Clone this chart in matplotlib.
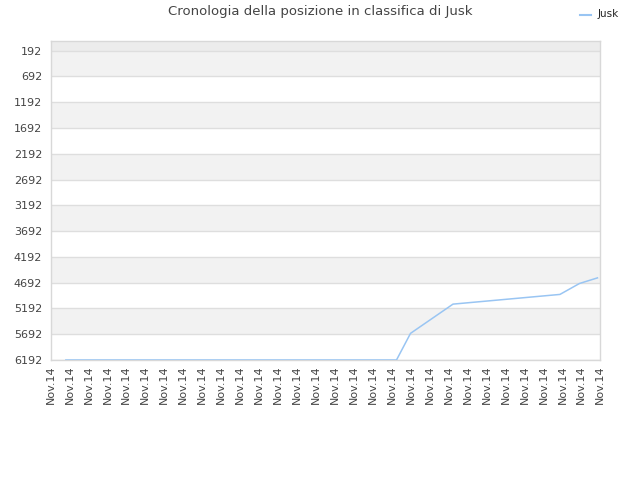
import matplotlib
matplotlib.use("Agg")
import matplotlib.pyplot as plt

# Data (x in tick-index units, y = ranking position)
tick_labels = ["Nov.14"] * 30
x_pos = [0.81, 18.25, 18.99, 21.23, 26.87, 27.9, 28.85]
rank = [6192, 6192, 5675, 5108, 4920, 4708, 4599]
y_ticks = [192, 692, 1192, 1692, 2192, 2692, 3192, 3692, 4192, 4692, 5192, 5692, 6192]
series_name = "Jusk"
title = "Cronologia della posizione in classifica di Jusk"

fig = plt.figure(figsize=(6.4, 4.8), dpi=100)
ax = fig.add_axes([50.5 / 640, 1 - 360 / 480, (600.3 - 50.5) / 640, (360 - 40.7) / 480])

ax.set_xlim(0, len(tick_labels) - 1)
ax.set_ylim(6192, -2)

# alternating bands
ax.axhspan(-2, 192, color="#ececec", lw=0, zorder=0)
for i in range(len(y_ticks) - 1):
    if i % 2 == 0:
        ax.axhspan(y_ticks[i], y_ticks[i + 1], color="#f2f2f2", lw=0, zorder=0)
for y in y_ticks:
    ax.axhline(y, color="#dedede", lw=1, zorder=1)

ax.plot(x_pos, rank, color="#99c5f3", lw=1.1, zorder=3, label=series_name)

ax.set_yticks(y_ticks)
ax.set_yticklabels([str(v) for v in y_ticks], fontsize=8, color="#444444")
ax.set_xticks(range(len(tick_labels)))
ax.set_xticklabels(tick_labels, rotation=90, fontsize=8, color="#444444")
ax.tick_params(length=0, pad=6)
ax.tick_params(axis="x", pad=4)

for s in ax.spines.values():
    s.set_color("#d8d8d8")
    s.set_linewidth(1)

fig.text(0.5, 1 - 12 / 480, title, ha="center", va="center", fontsize=9.5, color="#444444")

# legend
fig.lines.append(plt.Line2D([580 / 640, 591 / 640], [1 - 15 / 480, 1 - 15 / 480],
                            transform=fig.transFigure, color="#99c5f3", lw=1.5))
fig.text(598 / 640, 1 - 14 / 480, series_name, ha="left", va="center", fontsize=7.5, color="#222222")

fig.savefig("out.png", dpi=100)
